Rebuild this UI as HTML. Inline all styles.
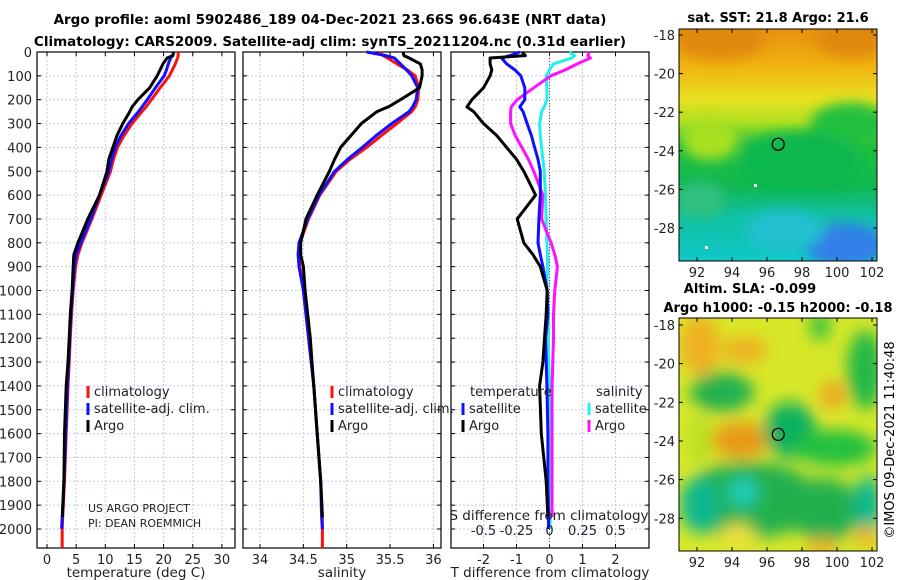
<!DOCTYPE html>
<html><head><meta charset="utf-8"><style>
html,body{margin:0;padding:0;background:#fff;}
svg{display:block;font-family:"DejaVu Sans","Liberation Sans",sans-serif;}
</style></head><body>
<svg id="fig" width="900" height="580" viewBox="0 0 900 580" xmlns="http://www.w3.org/2000/svg">
<defs>
<filter id="blur1" x="-20%" y="-20%" width="140%" height="140%"><feGaussianBlur stdDeviation="6"/></filter>
<filter id="blur2" x="-20%" y="-20%" width="140%" height="140%"><feGaussianBlur stdDeviation="8"/></filter>
<clipPath id="clipM1"><rect x="679" y="29" width="198" height="232"/></clipPath>
<clipPath id="clipM2"><rect x="679" y="318" width="198" height="233"/></clipPath>
<linearGradient id="sstGrad" x1="0" y1="0" x2="0" y2="1">
<stop offset="0" stop-color="#e8900f"/><stop offset="0.15" stop-color="#f0b010"/><stop offset="0.3" stop-color="#e8e020"/>
<stop offset="0.4" stop-color="#b0e020"/><stop offset="0.5" stop-color="#20c040"/><stop offset="0.68" stop-color="#10b850"/>
<stop offset="0.8" stop-color="#10c0a0"/><stop offset="1" stop-color="#10c8c8"/></linearGradient>
</defs>
<g id="titles">
<text x="330" y="24" font-size="13.5" font-weight="bold" text-anchor="middle">Argo profile: aoml 5902486_189 04-Dec-2021 23.66S 96.643E (NRT data)</text>
<text x="330" y="46" font-size="13.5" font-weight="bold" text-anchor="middle">Climatology: CARS2009. Satellite-adj clim: synTS_20211204.nc (0.31d earlier)</text>
</g>
<g id="panels"></g>
<g id="maps"></g>
<text transform="translate(894,440) rotate(-90)" font-size="13" text-anchor="middle">©IMOS 09-Dec-2021 11:40:48</text>
</svg>
<script>
// ---- data ----
const depths = [0,15,25,50,75,100,150,200,230,250,300,350,400,450,500,600,700,800,850,900,1000,1100,1200,1300,1400,1600,1800,1950,2000,2080];
const tempClim = [22.5,22.5,22.4,22.0,21.5,21.0,19.4,17.9,17.0,16.3,14.6,13.2,12.1,11.4,10.9,9.3,7.7,6.0,5.3,4.9,4.5,4.2,4.0,3.8,3.6,3.3,3.0,2.7,2.6,2.6];
const tempSat = [21.7,21.6,21.2,20.8,20.5,20.1,18.6,17.2,16.3,15.7,14.0,12.7,11.7,11.1,10.6,9.0,7.5,5.8,5.0,4.7,4.4,4.1,3.9,3.7,3.5,3.2,2.9,2.6,2.5,null];
const tempArgo = [21.7,21.6,20.6,19.9,19.4,18.9,17.6,15.6,14.6,14.2,13.0,12.0,11.3,10.6,10.3,9.0,7.0,5.3,4.6,4.5,4.3,4.0,3.8,3.6,3.3,3.0,2.9,2.65,null,null];
const salClim = [35.38,35.42,35.47,35.58,35.70,35.79,35.83,35.82,35.79,35.75,35.58,35.40,35.23,35.04,34.88,34.69,34.56,34.46,34.45,34.46,34.50,34.53,34.56,34.59,34.62,34.66,34.70,34.72,34.72,34.72];
const salSat = [35.23,35.45,35.55,35.62,35.69,35.75,35.82,35.80,35.76,35.72,35.52,35.34,35.18,35.01,34.86,34.68,34.55,34.45,34.44,34.45,34.50,34.53,34.56,34.59,34.62,34.66,34.70,34.71,34.72,null];
const salArgo = [35.65,35.66,35.72,35.85,35.87,35.87,35.84,35.62,35.48,35.35,35.17,35.05,34.93,34.86,34.80,34.66,34.53,34.47,34.47,34.50,34.52,34.55,34.58,34.60,34.62,34.66,34.70,34.72,null,null];
const tDiffSat = [-0.9,-1.2,-1.45,-1.3,-1.05,-0.87,-0.75,-0.75,-0.9,-0.8,-0.68,-0.55,-0.45,-0.35,-0.28,-0.28,-0.32,-0.35,-0.28,-0.2,-0.07,-0.05,-0.12,-0.1,-0.08,-0.05,-0.05,-0.03,-0.03,null];
const tDiffArgo = [-0.83,-0.73,-1.8,-1.8,-1.75,-1.8,-2.0,-2.35,-2.5,-2.3,-2.0,-1.6,-1.3,-1.0,-0.78,-0.42,-0.98,-0.78,-0.5,-0.28,-0.07,-0.1,-0.15,-0.2,-0.3,-0.25,-0.1,-0.05,null,null];
const sDiffSat = [0.15,0.19,0.17,0.03,0.0,-0.025,-0.02,-0.02,-0.04,-0.06,-0.075,-0.07,-0.06,-0.05,-0.04,-0.03,-0.025,-0.02,-0.015,-0.015,-0.02,-0.01,-0.01,-0.005,0,0.0,0.0,0.005,0.005,null];
const sDiffArgo = [0.30,0.29,0.31,0.21,0.12,0.01,-0.12,-0.245,-0.29,-0.295,-0.295,-0.26,-0.21,-0.16,-0.12,-0.05,-0.06,0.012,0.04,0.06,0.04,0.03,0.03,0.025,0.02,0.02,0.02,0.02,null,null];
const depthTicks = [0,100,200,300,400,500,600,700,800,900,1000,1100,1200,1300,1400,1500,1600,1700,1800,1900,2000];
const tempTicks = [0,5,10,15,20,25,30];
const salTicks = [34,34.5,35,35.5,36];
const tDiffTicks = [-2,-1,0,1,2];
const sDiffTicks = [-0.5,-0.25,0,0.25,0.5];
const lonTicks = [92,94,96,98,100,102];
const latTicks = [-18,-20,-22,-24,-26,-28];
const floatLon = 96.643, floatLat = -23.66;

const NS="http://www.w3.org/2000/svg";
function mk(tag, attrs, parent, txt){const e=document.createElementNS(NS,tag);for(const k in attrs)e.setAttribute(k,attrs[k]);if(txt!==undefined)e.textContent=txt;parent.appendChild(e);return e;}
const yD = d => 52 + d*0.2385;
const PTOP=52, PBOT=548;
const panels=document.getElementById('panels');

function panel(name,x0,x1,xs,ticks,fmt,xlabel,label0){
  const g=mk('g',{},panels);
  
  
  depthTicks.forEach(d=>{const l=mk('line',{x1:x0,x2:x1,y1:yD(d),y2:yD(d),stroke:'#c4c8ec','stroke-dasharray':'2,2','stroke-width':1},g);
    });
  ticks.forEach(v=>{const X=xs(v);const l=mk('line',{x1:X,x2:X,y1:PTOP,y2:PBOT,stroke:'#c4c8ec','stroke-dasharray':'2,2','stroke-width':1},g);
    
    mk('line',{x1:X,x2:X,y1:PBOT,y2:PBOT-4,stroke:'#000'},g);mk('line',{x1:X,x2:X,y1:PTOP,y2:PTOP+4,stroke:'#000'},g);
    const t=mk('text',{x:X,y:PBOT+16,'font-size':13,'text-anchor':'middle',fill:'#222'},g,fmt(v));
    });
  depthTicks.forEach(d=>{mk('line',{x1:x0,x2:x0+4,y1:yD(d),y2:yD(d),stroke:'#000'},g);mk('line',{x1:x1,x2:x1-4,y1:yD(d),y2:yD(d),stroke:'#000'},g);
    if(label0){const t=mk('text',{x:x0-5,y:yD(d)+5,'font-size':13,'text-anchor':'end',fill:'#222'},g,String(d));
      }});
  const r=mk('rect',{x:x0,y:PTOP,width:x1-x0,height:PBOT-PTOP,fill:'none',stroke:'#000','stroke-width':1.2},g);
  
  const xl=mk('text',{x:(x0+x1)/2,y:PBOT+29,'font-size':13.5,'text-anchor':'middle',fill:'#222'},g,xlabel);
  
  return g;
}
function line(g,vals,xs,color,name){
  let d='';let pen=false;
  vals.forEach((v,i)=>{if(v===null){pen=false;return;}d+=(pen?'L':'M')+xs(v).toFixed(1)+','+Math.min(PBOT,yD(depths[i])).toFixed(1);pen=true;});
  const p=mk('path',{d:d,fill:'none',stroke:color,'stroke-width':3,'stroke-linejoin':'round'},g);
  
  
}
function legend(g,x,y,color,label){
  mk('rect',{x:x-1.5,y:y-10,width:3,height:12,fill:color},g);
  const t=mk('text',{x:x+6,y:y,'font-size':13,fill:'#222'},g,label);
  
}
// panel 1
const xT=v=>47+v*5.83;
const g1=panel('temperature-panel',37,235,xT,tempTicks,String,'temperature (deg C)',true);
line(g1,tempClim,xT,'#ff1010','temp-climatology-line');
line(g1,tempSat,xT,'#1010ff','temp-satellite-line');
line(g1,tempArgo,xT,'#000','temp-argo-line');
legend(g1,88,396,'#ff1010','climatology');legend(g1,88,413,'#1010ff','satellite-adj. clim.');legend(g1,88,430,'#000','Argo');
mk('text',{x:88,y:512,'font-size':11,fill:'#222'},g1,'US ARGO PROJECT');
mk('text',{x:88,y:527,'font-size':11,fill:'#222'},g1,'PI: DEAN ROEMMICH');
// panel 2
const xS=v=>260+(v-34)*86.7;
const g2=panel('salinity-panel',243,441,xS,salTicks,String,'salinity',false);
line(g2,salClim,xS,'#ff1010','sal-climatology-line');
line(g2,salSat,xS,'#1010ff','sal-satellite-line');
line(g2,salArgo,xS,'#000','sal-argo-line');
legend(g2,332,396,'#ff1010','climatology');legend(g2,332,413,'#1010ff','satellite-adj. clim.');legend(g2,332,430,'#000','Argo');
// panel 3
const xDT=v=>549.5+v*33;
const xDS=v=>549.5+v*4*33;
const g3=panel('difference-panel',451,649,xDT,tDiffTicks,String,'T difference from climatology',false);
const zl=mk('line',{x1:549.5,x2:549.5,y1:PTOP,y2:PBOT,stroke:'#555','stroke-dasharray':'1,2'},g3);

line(g3,sDiffSat,xDS,'#20f0f0','sdiff-satellite-line');
line(g3,sDiffArgo,xDS,'#ff10ff','sdiff-argo-line');
line(g3,tDiffSat,xDT,'#1010ff','tdiff-satellite-line');
line(g3,tDiffArgo,xDT,'#000','tdiff-argo-line');
mk('text',{x:470,y:396,'font-size':13,fill:'#222'},g3,'temperature');
mk('text',{x:596,y:396,'font-size':13,fill:'#222'},g3,'salinity');
legend(g3,463,413,'#1010ff','satellite');legend(g3,463,430,'#000','Argo');
legend(g3,589,413,'#20f0f0','satellite');legend(g3,589,430,'#ff10ff','Argo');
const st=mk('text',{x:549,y:520,'font-size':13.5,'text-anchor':'middle',fill:'#222'},g3,'S difference from climatology');

sDiffTicks.forEach(v=>{const t=mk('text',{x:xDS(v),y:535,'font-size':13,'text-anchor':'middle',fill:'#222'},g3,String(v));
  });

// ---- maps ----
const maps=document.getElementById('maps');
const lonX=v=>697+(v-92)*17.5;
function mapAxes(g,top,bot,latY){
  mk('rect',{x:679,y:top,width:198,height:bot-top,fill:'none',stroke:'#000','stroke-width':1},g);
  lonTicks.forEach(v=>{const X=lonX(v);mk('line',{x1:X,x2:X,y1:bot,y2:bot-4,stroke:'#000'},g);mk('line',{x1:X,x2:X,y1:top,y2:top+4,stroke:'#000'},g);
    const t=mk('text',{x:X,y:bot+16,'font-size':13,'text-anchor':'middle',fill:'#222'},g,String(v));
    });
  latTicks.forEach(v=>{const Y=latY(v);mk('line',{x1:679,x2:683,y1:Y,y2:Y,stroke:'#000'},g);mk('line',{x1:877,x2:873,y1:Y,y2:Y,stroke:'#000'},g);
    const t=mk('text',{x:675,y:Y+5,'font-size':13,'text-anchor':'end',fill:'#222'},g,String(v));
    });
  const c=mk('circle',{cx:lonX(floatLon),cy:latY(floatLat),r:6,fill:'none',stroke:'#000','stroke-width':1.3},g);
  
}
// map 1 SST
const lat1=v=>35+(-18-v)*19.3;
const m1=mk('g',{},maps);


const c1=mk('g',{'clip-path':'url(#clipM1)'},m1);
mk('rect',{x:679,y:29,width:198,height:232,fill:'url(#sstGrad)'},c1);
const b1=mk('g',{filter:'url(#blur1)'},c1);
mk('ellipse',{cx:720,cy:38,rx:45,ry:22,fill:'#e08a10'},b1);
mk('ellipse',{cx:850,cy:38,rx:35,ry:20,fill:'#e08a10'},b1);
mk('ellipse',{cx:850,cy:125,rx:40,ry:22,fill:'#20c040'},b1);
mk('ellipse',{cx:710,cy:140,rx:28,ry:20,fill:'#a8e020'},b1);
mk('ellipse',{cx:800,cy:160,rx:60,ry:28,fill:'#10b850'},b1);
mk('ellipse',{cx:845,cy:245,rx:40,ry:22,fill:'#3080e8'},b1);
mk('ellipse',{cx:785,cy:230,rx:40,ry:20,fill:'#20c0d0'},b1);
mk('ellipse',{cx:700,cy:200,rx:25,ry:18,fill:'#30c080'},b1);
mk('rect',{x:754,y:184,width:3,height:3,fill:'#fff'},c1);
mk('rect',{x:705,y:246,width:3,height:3,fill:'#fff'},c1);
mapAxes(m1,29,261,lat1);
mk('text',{x:778,y:22,'font-size':13,'font-weight':'bold','text-anchor':'middle'},m1,'sat. SST: 21.8 Argo: 21.6');
// map 2 SLA
const lat2=v=>325+(-18-v)*19.33;
const m2=mk('g',{},maps);


const c2=mk('g',{'clip-path':'url(#clipM2)'},m2);
mk('rect',{x:679,y:318,width:198,height:233,fill:'#d8e828'},c2);
const b2=mk('g',{filter:'url(#blur2)'},c2);
mk('ellipse',{cx:700,cy:345,rx:20,ry:30,fill:'#f0b020'},b2);
mk('ellipse',{cx:745,cy:350,rx:22,ry:14,fill:'#f0b020'},b2);
mk('ellipse',{cx:722,cy:392,rx:32,ry:20,fill:'#20b050'},b2);
mk('ellipse',{cx:740,cy:440,rx:28,ry:18,fill:'#e89818'},b2);
mk('ellipse',{cx:790,cy:430,rx:26,ry:28,fill:'#10b060'},b2);
mk('ellipse',{cx:835,cy:448,rx:42,ry:18,fill:'#20c040'},b2);
mk('ellipse',{cx:865,cy:370,rx:18,ry:40,fill:'#20b848'},b2);
mk('ellipse',{cx:833,cy:395,rx:12,ry:14,fill:'#f0a020'},b2);
mk('ellipse',{cx:750,cy:500,rx:70,ry:38,fill:'#20b050'},b2);
mk('ellipse',{cx:743,cy:492,rx:14,ry:14,fill:'#20d0c0'},b2);
mk('ellipse',{cx:700,cy:505,rx:20,ry:28,fill:'#10b890'},b2);
mk('ellipse',{cx:825,cy:510,rx:35,ry:32,fill:'#20b050'},b2);
mk('ellipse',{cx:738,cy:535,rx:16,ry:12,fill:'#f0e040'},b2);
mk('ellipse',{cx:822,cy:548,rx:14,ry:10,fill:'#f0b020'},b2);
mk('ellipse',{cx:868,cy:505,rx:14,ry:30,fill:'#10b890'},b2);
mk('ellipse',{cx:866,cy:537,rx:12,ry:10,fill:'#f0b020'},b2);
mk('ellipse',{cx:820,cy:326,rx:10,ry:15,fill:'#30c040'},b2);
mk('ellipse',{cx:700,cy:440,rx:12,ry:25,fill:'#b8e020'},b2);
mapAxes(m2,318,551,lat2);
mk('text',{x:750,y:293,'font-size':13,'font-weight':'bold','text-anchor':'middle'},m2,'Altim. SLA: -0.099');
mk('text',{x:778,y:312,'font-size':13,'font-weight':'bold','text-anchor':'middle'},m2,'Argo h1000: -0.15 h2000: -0.18');
</script>
</body></html>
